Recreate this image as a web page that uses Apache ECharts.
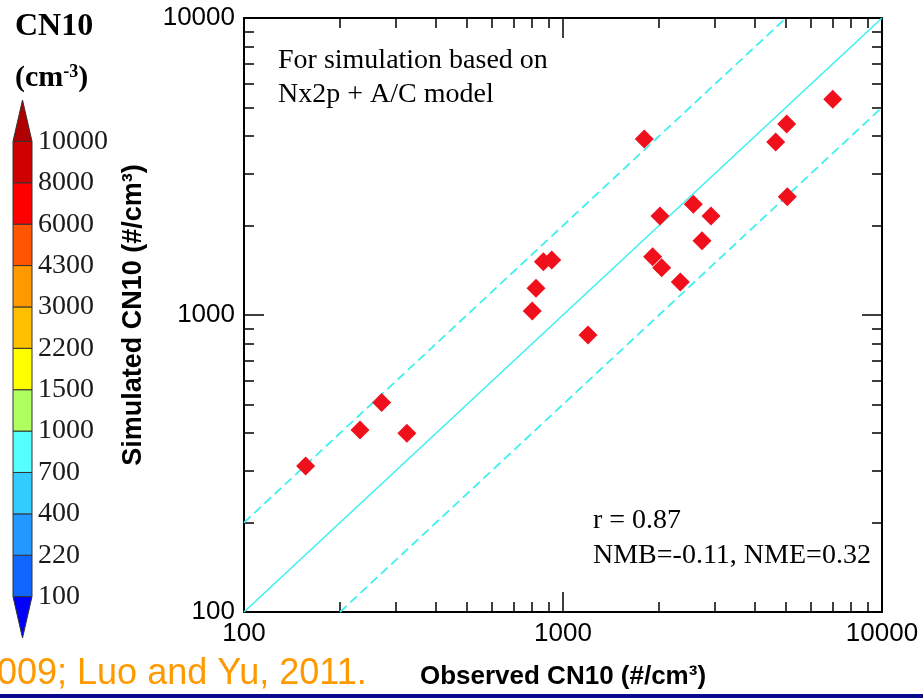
<!DOCTYPE html>
<html><head><meta charset="utf-8">
<script src="https://cdn.jsdelivr.net/npm/echarts@6/dist/echarts.min.js"></script>
<style>html,body{margin:0;padding:0;background:#fff}#c{width:923px;height:698px}</style>
</head><body><div id="c"></div>
<script>
// ---- data ----
const observed  = [156, 231, 270, 324, 801, 823, 868, 922, 1198, 1798, 1910, 2014, 2039, 2332, 2562, 2727, 2911, 4643, 5027, 5049, 7007];
const simulated = [310, 410, 507, 400, 1031, 1230, 1512, 1532, 857, 3914, 1572, 2154, 1443, 1292, 2359, 1779, 2154, 3823, 4396, 2502, 5324];
const oneToOne  = [[100, 100], [10000, 10000]];
const factor2Up = [[100, 200], [5000, 10000]];
const factor2Dn = [[200, 100], [10000, 5000]];
const majorTicks = [100, 1000, 10000];
const minorTicks = [200, 300, 400, 500, 600, 700, 800, 900, 2000, 3000, 4000, 5000, 6000, 7000, 8000, 9000];
const cbLabels = ['100', '220', '400', '700', '1000', '1500', '2200', '3000', '4300', '6000', '8000', '10000'];
// bottom triangle, 11 boxes, top triangle
const cbColors = ['#0000FF', '#1166FF', '#2299FF', '#33CCFF', '#55FFFF', '#B0FF60', '#FFFF00', '#FFC000', '#FF9900', '#FF5500', '#FF0000', '#D00000', '#B00000'];
const cbIndex = [-1, 0, 1, 2, 3, 4, 5, 6, 7, 8, 9, 10, 11];

const SANS = 'Liberation Sans, Arial, sans-serif';
const SERIF = 'Liberation Serif, Times New Roman, serif';
const cyan = '#40F0F0';

function logAxis(pos, ticks, len, showLine, showLabel, extra) {
  return Object.assign({
    gridIndex: 0, type: 'log', logBase: 10, min: 100, max: 10000, position: pos,
    axisLine: { show: showLine, onZero: false, lineStyle: { color: '#000', width: 2 } },
    axisTick: { show: true, inside: true, length: len, customValues: ticks, lineStyle: { color: '#000', width: 1.5 } },
    axisLabel: showLabel ? { customValues: majorTicks, fontFamily: SANS, fontSize: 26, color: '#000', margin: 9,
      formatter: v => String(Math.round(v)) } : { show: false },
    splitLine: { show: false }, minorTick: { show: false }
  }, extra || {});
}

const chart = echarts.init(document.getElementById('c'), null, { renderer: 'canvas' });
chart.setOption({
  animation: false,
  backgroundColor: '#fff',
  grid: [
    { left: 244, right: 41, top: 18, bottom: 86, containLabel: false },
    { left: 13, width: 19, top: 100, height: 538, containLabel: false }
  ],
  xAxis: [
    logAxis('bottom', majorTicks, 20, true, true, {
      name: 'Observed CN10 (#/cm³)', nameLocation: 'middle', nameGap: 52,
      nameTextStyle: { fontFamily: SANS, fontSize: 26, fontWeight: 'bold', color: '#000' }
    }),
    logAxis('bottom', minorTicks, 10, false, false),
    logAxis('top', majorTicks, 20, true, false),
    logAxis('top', minorTicks, 10, false, false),
    { gridIndex: 1, type: 'value', min: 0, max: 1, show: false }
  ],
  yAxis: [
    logAxis('left', majorTicks, 20, true, true, {
      name: 'Simulated CN10 (#/cm³)', nameLocation: 'middle', nameGap: 97, nameRotate: 90,
      nameTextStyle: { fontFamily: SANS, fontSize: 27, fontWeight: 'bold', color: '#000' }
    }),
    logAxis('left', minorTicks, 10, false, false),
    logAxis('right', majorTicks, 20, true, false),
    logAxis('right', minorTicks, 10, false, false),
    { gridIndex: 1, type: 'value', min: -1, max: 12, interval: 1, position: 'right',
      axisLine: { show: false }, axisTick: { show: false }, splitLine: { show: false },
      axisLabel: { margin: 6, fontFamily: SERIF, fontSize: 28, color: '#1a1a1a',
        formatter: v => (v >= 0 && v <= 11) ? cbLabels[v] : '' } }
  ],
  series: [
    { type: 'line', xAxisIndex: 0, yAxisIndex: 0, data: oneToOne, symbol: 'none', silent: true, z: 2,
      lineStyle: { color: cyan, width: 1.6 } },
    { type: 'line', xAxisIndex: 0, yAxisIndex: 0, data: factor2Up, symbol: 'none', silent: true, z: 2,
      lineStyle: { color: cyan, width: 1.8, type: [9, 5] } },
    { type: 'line', xAxisIndex: 0, yAxisIndex: 0, data: factor2Dn, symbol: 'none', silent: true, z: 2,
      lineStyle: { color: cyan, width: 1.8, type: [9, 5] } },
    { type: 'scatter', xAxisIndex: 0, yAxisIndex: 0, z: 3, symbol: 'diamond', symbolSize: 19,
      itemStyle: { color: '#F0101C', opacity: 1 },
      data: observed.map((x, i) => [x, simulated[i]]) },
    { type: 'custom', xAxisIndex: 4, yAxisIndex: 4, silent: true,
      data: cbIndex.map(i => [0, i]),
      renderItem: function (params, api) {
        const i = api.value(1);
        const fill = cbColors[params.dataIndex];
        const st = { fill: fill, stroke: '#333', lineWidth: 1 };
        if (i === -1) {
          return { type: 'polygon', shape: { points: [api.coord([0, 0]), api.coord([1, 0]), api.coord([0.5, -1])] }, style: st };
        }
        if (i === 11) {
          return { type: 'polygon', shape: { points: [api.coord([0, 11]), api.coord([1, 11]), api.coord([0.5, 12])] }, style: st };
        }
        const p0 = api.coord([0, i + 1]);
        const p1 = api.coord([1, i]);
        return { type: 'rect', shape: { x: p0[0], y: p0[1], width: p1[0] - p0[0], height: p1[1] - p0[1] }, style: st };
      } }
  ],
  graphic: [
    { type: 'text', x: 15, y: 27, style: { text: 'CN10', fontFamily: SERIF, fontWeight: 'bold', fontSize: 32, fill: '#000', verticalAlign: 'middle' } },
    { type: 'text', x: 15, y: 78, style: { text: '(cm{s|-3})', fontFamily: SERIF, fontWeight: 'bold', fontSize: 30, fill: '#000', verticalAlign: 'middle',
        rich: { s: { fontFamily: SERIF, fontWeight: 'bold', fontSize: 18, verticalAlign: 'top', lineHeight: 30, fill: '#000' } } } },
    { type: 'text', x: 278, y: 61, style: { text: 'For simulation based on', fontFamily: SERIF, fontSize: 28, fill: '#000', verticalAlign: 'middle' } },
    { type: 'text', x: 278, y: 95, style: { text: 'Nx2p + A/C model', fontFamily: SERIF, fontSize: 28, fill: '#000', verticalAlign: 'middle' } },
    { type: 'text', x: 593, y: 521, style: { text: 'r = 0.87', fontFamily: SERIF, fontSize: 28, fill: '#000', verticalAlign: 'middle' } },
    { type: 'text', x: 593, y: 556, style: { text: 'NMB=-0.11, NME=0.32', fontFamily: SERIF, fontSize: 28, fill: '#000', verticalAlign: 'middle' } },
    { type: 'text', x: -3, y: 674, style: { text: '009; Luo and Yu, 2011.', fontFamily: SANS, fontSize: 36, fill: '#FF9900', verticalAlign: 'middle' } },
    { type: 'rect', shape: { x: 0, y: 694, width: 923, height: 4 }, style: { fill: '#0A0A8C' } }
  ]
});
</script></body></html>
